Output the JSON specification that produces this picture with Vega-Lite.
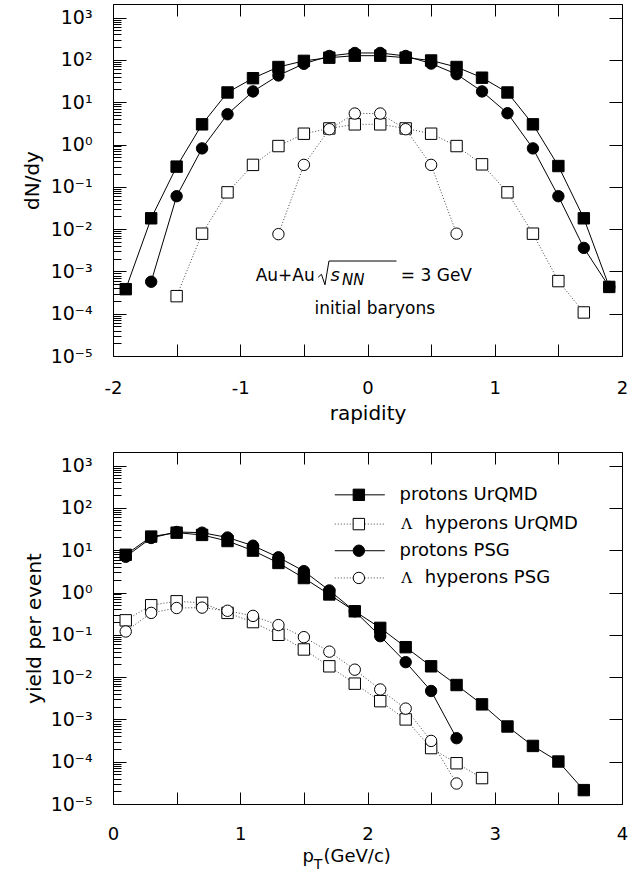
{
  "$schema": "https://vega.github.io/schema/vega-lite/v6.json",
  "padding": {"left": 21, "top": 3, "right": 5, "bottom": 3},
  "background": "white",
  "spacing": 96,
  "bounds": "flush",
  "config": {
    "view": {"stroke": "black", "strokeWidth": 1},
    "font": "DejaVu Sans",
    "text": {"font": "DejaVu Sans", "color": "black"},
    "axis": {
      "domain": false, "grid": false, "labelFont": "DejaVu Sans", "labelFontSize": 18, "labelColor": "black",
      "tickColor": "black", "tickWidth": 1, "titleFont": "DejaVu Sans", "titleFontSize": 20, "titleFontWeight": "normal",
      "titleColor": "black", "labelOverlap": false, "labelBound": false, "labelFlush": false
    }
  },
  "datasets": {
    "top": [
      {"s": "Λ hyperons UrQMD", "x": -1.5, "y": 0.00026},
      {"s": "Λ hyperons UrQMD", "x": -1.3, "y": 0.0078},
      {"s": "Λ hyperons UrQMD", "x": -1.1, "y": 0.074},
      {"s": "Λ hyperons UrQMD", "x": -0.9, "y": 0.33},
      {"s": "Λ hyperons UrQMD", "x": -0.7, "y": 0.92},
      {"s": "Λ hyperons UrQMD", "x": -0.5, "y": 1.8},
      {"s": "Λ hyperons UrQMD", "x": -0.3, "y": 2.4},
      {"s": "Λ hyperons UrQMD", "x": -0.1, "y": 3.0},
      {"s": "Λ hyperons UrQMD", "x": 0.1, "y": 3.0},
      {"s": "Λ hyperons UrQMD", "x": 0.3, "y": 2.4},
      {"s": "Λ hyperons UrQMD", "x": 0.5, "y": 1.8},
      {"s": "Λ hyperons UrQMD", "x": 0.7, "y": 0.92},
      {"s": "Λ hyperons UrQMD", "x": 0.9, "y": 0.34},
      {"s": "Λ hyperons UrQMD", "x": 1.1, "y": 0.074},
      {"s": "Λ hyperons UrQMD", "x": 1.3, "y": 0.0078},
      {"s": "Λ hyperons UrQMD", "x": 1.5, "y": 0.00059},
      {"s": "Λ hyperons UrQMD", "x": 1.7, "y": 0.000107},
      {"s": "Λ hyperons PSG", "x": -0.7, "y": 0.0076},
      {"s": "Λ hyperons PSG", "x": -0.5, "y": 0.33},
      {"s": "Λ hyperons PSG", "x": -0.3, "y": 2.3},
      {"s": "Λ hyperons PSG", "x": -0.1, "y": 5.4},
      {"s": "Λ hyperons PSG", "x": 0.1, "y": 5.4},
      {"s": "Λ hyperons PSG", "x": 0.3, "y": 2.3},
      {"s": "Λ hyperons PSG", "x": 0.5, "y": 0.33},
      {"s": "Λ hyperons PSG", "x": 0.7, "y": 0.0078},
      {"s": "protons UrQMD", "x": -1.9, "y": 0.00038},
      {"s": "protons UrQMD", "x": -1.7, "y": 0.018},
      {"s": "protons UrQMD", "x": -1.5, "y": 0.30},
      {"s": "protons UrQMD", "x": -1.3, "y": 3.0},
      {"s": "protons UrQMD", "x": -1.1, "y": 17},
      {"s": "protons UrQMD", "x": -0.9, "y": 37},
      {"s": "protons UrQMD", "x": -0.7, "y": 68},
      {"s": "protons UrQMD", "x": -0.5, "y": 95},
      {"s": "protons UrQMD", "x": -0.3, "y": 113},
      {"s": "protons UrQMD", "x": -0.1, "y": 126},
      {"s": "protons UrQMD", "x": 0.1, "y": 126},
      {"s": "protons UrQMD", "x": 0.3, "y": 113},
      {"s": "protons UrQMD", "x": 0.5, "y": 97},
      {"s": "protons UrQMD", "x": 0.7, "y": 68},
      {"s": "protons UrQMD", "x": 0.9, "y": 38},
      {"s": "protons UrQMD", "x": 1.1, "y": 17},
      {"s": "protons UrQMD", "x": 1.3, "y": 3.0},
      {"s": "protons UrQMD", "x": 1.5, "y": 0.31},
      {"s": "protons UrQMD", "x": 1.7, "y": 0.018},
      {"s": "protons UrQMD", "x": 1.9, "y": 0.00043},
      {"s": "protons PSG", "x": -1.7, "y": 0.00057},
      {"s": "protons PSG", "x": -1.5, "y": 0.06},
      {"s": "protons PSG", "x": -1.3, "y": 0.81},
      {"s": "protons PSG", "x": -1.1, "y": 5.2},
      {"s": "protons PSG", "x": -0.9, "y": 18},
      {"s": "protons PSG", "x": -0.7, "y": 43},
      {"s": "protons PSG", "x": -0.5, "y": 81},
      {"s": "protons PSG", "x": -0.3, "y": 124},
      {"s": "protons PSG", "x": -0.1, "y": 146},
      {"s": "protons PSG", "x": 0.1, "y": 146},
      {"s": "protons PSG", "x": 0.3, "y": 124},
      {"s": "protons PSG", "x": 0.5, "y": 82},
      {"s": "protons PSG", "x": 0.7, "y": 46},
      {"s": "protons PSG", "x": 0.9, "y": 18},
      {"s": "protons PSG", "x": 1.1, "y": 5.5},
      {"s": "protons PSG", "x": 1.3, "y": 0.81},
      {"s": "protons PSG", "x": 1.5, "y": 0.06},
      {"s": "protons PSG", "x": 1.7, "y": 0.0036},
      {"s": "protons PSG", "x": 1.9, "y": 0.00043}
    ],
    "bot": [
      {"s": "Λ hyperons UrQMD", "x": 0.1, "y": 0.22},
      {"s": "Λ hyperons UrQMD", "x": 0.3, "y": 0.50},
      {"s": "Λ hyperons UrQMD", "x": 0.5, "y": 0.62},
      {"s": "Λ hyperons UrQMD", "x": 0.7, "y": 0.57},
      {"s": "Λ hyperons UrQMD", "x": 0.9, "y": 0.33},
      {"s": "Λ hyperons UrQMD", "x": 1.1, "y": 0.20},
      {"s": "Λ hyperons UrQMD", "x": 1.3, "y": 0.10},
      {"s": "Λ hyperons UrQMD", "x": 1.5, "y": 0.045},
      {"s": "Λ hyperons UrQMD", "x": 1.7, "y": 0.018},
      {"s": "Λ hyperons UrQMD", "x": 1.9, "y": 0.007},
      {"s": "Λ hyperons UrQMD", "x": 2.1, "y": 0.0027},
      {"s": "Λ hyperons UrQMD", "x": 2.3, "y": 0.001},
      {"s": "Λ hyperons UrQMD", "x": 2.5, "y": 0.00021},
      {"s": "Λ hyperons UrQMD", "x": 2.7, "y": 0.000092},
      {"s": "Λ hyperons UrQMD", "x": 2.9, "y": 0.000041},
      {"s": "Λ hyperons PSG", "x": 0.1, "y": 0.12},
      {"s": "Λ hyperons PSG", "x": 0.3, "y": 0.33},
      {"s": "Λ hyperons PSG", "x": 0.5, "y": 0.43},
      {"s": "Λ hyperons PSG", "x": 0.7, "y": 0.44},
      {"s": "Λ hyperons PSG", "x": 0.9, "y": 0.37},
      {"s": "Λ hyperons PSG", "x": 1.1, "y": 0.28},
      {"s": "Λ hyperons PSG", "x": 1.3, "y": 0.17},
      {"s": "Λ hyperons PSG", "x": 1.5, "y": 0.088},
      {"s": "Λ hyperons PSG", "x": 1.7, "y": 0.04},
      {"s": "Λ hyperons PSG", "x": 1.9, "y": 0.015},
      {"s": "Λ hyperons PSG", "x": 2.1, "y": 0.0051},
      {"s": "Λ hyperons PSG", "x": 2.3, "y": 0.0018},
      {"s": "Λ hyperons PSG", "x": 2.5, "y": 0.00031},
      {"s": "Λ hyperons PSG", "x": 2.7, "y": 0.0000305},
      {"s": "protons UrQMD", "x": 0.1, "y": 7.8},
      {"s": "protons UrQMD", "x": 0.3, "y": 21},
      {"s": "protons UrQMD", "x": 0.5, "y": 26},
      {"s": "protons UrQMD", "x": 0.7, "y": 23},
      {"s": "protons UrQMD", "x": 0.9, "y": 16.5},
      {"s": "protons UrQMD", "x": 1.1, "y": 9.8},
      {"s": "protons UrQMD", "x": 1.3, "y": 5.0},
      {"s": "protons UrQMD", "x": 1.5, "y": 2.2},
      {"s": "protons UrQMD", "x": 1.7, "y": 0.9},
      {"s": "protons UrQMD", "x": 1.9, "y": 0.36},
      {"s": "protons UrQMD", "x": 2.1, "y": 0.146},
      {"s": "protons UrQMD", "x": 2.3, "y": 0.051},
      {"s": "protons UrQMD", "x": 2.5, "y": 0.018},
      {"s": "protons UrQMD", "x": 2.7, "y": 0.0065},
      {"s": "protons UrQMD", "x": 2.9, "y": 0.00227},
      {"s": "protons UrQMD", "x": 3.1, "y": 0.00068},
      {"s": "protons UrQMD", "x": 3.3, "y": 0.000236},
      {"s": "protons UrQMD", "x": 3.5, "y": 0.000101},
      {"s": "protons UrQMD", "x": 3.7, "y": 0.0000213},
      {"s": "protons PSG", "x": 0.1, "y": 7.0},
      {"s": "protons PSG", "x": 0.3, "y": 19.5},
      {"s": "protons PSG", "x": 0.5, "y": 27},
      {"s": "protons PSG", "x": 0.7, "y": 26},
      {"s": "protons PSG", "x": 0.9, "y": 20},
      {"s": "protons PSG", "x": 1.1, "y": 12.8},
      {"s": "protons PSG", "x": 1.3, "y": 6.8},
      {"s": "protons PSG", "x": 1.5, "y": 3.2},
      {"s": "protons PSG", "x": 1.7, "y": 1.12},
      {"s": "protons PSG", "x": 1.9, "y": 0.36},
      {"s": "protons PSG", "x": 2.1, "y": 0.093},
      {"s": "protons PSG", "x": 2.3, "y": 0.0226},
      {"s": "protons PSG", "x": 2.5, "y": 0.0047},
      {"s": "protons PSG", "x": 2.7, "y": 0.00036}
    ]
  },
  "vconcat": [
    {
      "width": 509,
      "height": 352,
      "data": {"name": "top"},
      "layer": [
        {
          "transform": [{"filter": "indexof(datum.s, 'protons') === 0"}],
          "mark": {"type": "line", "color": "black", "strokeWidth": 1},
          "encoding": {
            "x": {"field": "x", "type": "quantitative", "scale": {"domain": [-2, 2], "nice": false, "zero": false},
              "axis": {"orient": "bottom", "values": [-2, -1.5, -1, -0.5, 0, 0.5, 1, 1.5, 2], "tickSize": -12, "labelPadding": 35,
                "labelExpr": "datum.value == round(datum.value) ? (datum.value < 0 ? '-' + abs(datum.value) : '' + datum.value) : ''",
                "title": "rapidity", "titleX": 254.5, "titleY": 63, "titleBaseline": "alphabetic", "titleAlign": "center"}},
            "y": {"field": "y", "type": "quantitative", "scale": {"type": "log", "domain": [0.00001, 2100], "nice": false},
              "axis": {"orient": "left", "labelFontSize": 19,
                "values": [0.00001,0.00002,0.00003,0.00004,0.00005,0.00006,0.00007,0.00008,0.00009,0.0001,0.0002,0.0003,0.0004,0.0005,0.0006,0.0007,0.0008,0.0009,0.001,0.002,0.003,0.004,0.005,0.006,0.007,0.008,0.009,0.01,0.02,0.03,0.04,0.05,0.06,0.07,0.08,0.09,0.1,0.2,0.3,0.4,0.5,0.6,0.7,0.8,0.9,1,2,3,4,5,6,7,8,9,10,20,30,40,50,60,70,80,90,100,200,300,400,500,600,700,800,900,1000],
                "tickSize": {"condition": {"test": "abs(log(datum.value)/LN10 - round(log(datum.value)/LN10)) < 0.01", "value": -13}, "value": -8},
                "labelPadding": 34,
                "labelExpr": "abs(log(datum.value)/LN10 - round(log(datum.value)/LN10)) < 0.01 ? '10' + (datum.value < 0.5 ? '\u207b' : '') + ['\u2070','\u00b9','\u00b2','\u00b3','\u2074','\u2075'][abs(round(log(datum.value)/LN10))] : ''",
                "title": "dN/dy", "titleX": -75, "titleY": 176, "titleAngle": -90, "titleBaseline": "alphabetic", "titleAlign": "center"}},
            "detail": {"field": "s"}
          }
        },
        {
          "transform": [{"filter": "indexof(datum.s, 'protons') !== 0"}],
          "mark": {"type": "line", "color": "#444444", "strokeWidth": 1, "strokeDash": [1, 2]},
          "encoding": {
            "x": {"field": "x", "type": "quantitative", "axis": {"orient": "top", "values": [-2, -1.5, -1, -0.5, 0, 0.5, 1, 1.5, 2], "tickSize": -12, "labels": false, "title": null}},
            "y": {"field": "y", "type": "quantitative", "axis": {"orient": "right", "values": [0.00001,0.0001,0.001,0.01,0.1,1,10,100,1000], "tickSize": -13, "labels": false, "title": null}},
            "detail": {"field": "s"}
          }
        },
        {
          "mark": {"type": "point", "opacity": 1, "stroke": "black", "strokeWidth": 1, "size": 130},
          "encoding": {
            "x": {"field": "x", "type": "quantitative", "axis": null},
            "y": {"field": "y", "type": "quantitative", "axis": null},
            "shape": {"field": "s", "type": "nominal", "legend": null, "scale": {"domain": ["protons UrQMD", "Λ hyperons UrQMD", "protons PSG", "Λ hyperons PSG"], "range": ["square", "square", "circle", "circle"]}},
            "fill": {"field": "s", "type": "nominal", "legend": null, "scale": {"domain": ["protons UrQMD", "Λ hyperons UrQMD", "protons PSG", "Λ hyperons PSG"], "range": ["black", "white", "black", "white"]}}
          }
        },
        {
          "data": {"values": [{"t": "Au+Au"}]},
          "mark": {"type": "text", "align": "right", "baseline": "alphabetic", "fontSize": 17},
          "encoding": {"x": {"datum": -0.4145, "type": "quantitative", "axis": null}, "y": {"datum": 0.000583, "type": "quantitative", "axis": null}, "text": {"field": "t"}}
        },
        {
          "data": {"values": [{"t": "s"}]},
          "mark": {"type": "text", "align": "left", "baseline": "alphabetic", "fontSize": 18, "fontStyle": "italic"},
          "encoding": {"x": {"datum": -0.291, "type": "quantitative", "axis": null}, "y": {"datum": 0.000583, "type": "quantitative", "axis": null}, "text": {"field": "t"}}
        },
        {
          "data": {"values": [{"t": "NN"}]},
          "mark": {"type": "text", "align": "left", "baseline": "alphabetic", "fontSize": 15, "fontStyle": "italic"},
          "encoding": {"x": {"datum": -0.2, "type": "quantitative", "axis": null}, "y": {"datum": 0.000469, "type": "quantitative", "axis": null}, "text": {"field": "t"}}
        },
        {
          "data": {"values": [{"t": "= 3 GeV"}]},
          "mark": {"type": "text", "align": "left", "baseline": "alphabetic", "fontSize": 17},
          "encoding": {"x": {"datum": 0.262, "type": "quantitative", "axis": null}, "y": {"datum": 0.000583, "type": "quantitative", "axis": null}, "text": {"field": "t"}}
        },
        {
          "data": {"values": [{"t": "initial baryons"}]},
          "mark": {"type": "text", "align": "left", "baseline": "alphabetic", "fontSize": 17},
          "encoding": {"x": {"datum": -0.416, "type": "quantitative", "axis": null}, "y": {"datum": 0.0001, "type": "quantitative", "axis": null}, "text": {"field": "t"}}
        },
        {
          "data": {"values": [{}]},
          "mark": {"type": "rule", "color": "black", "strokeWidth": 1},
          "encoding": {"x": {"datum": -0.388, "type": "quantitative", "axis": null}, "y": {"datum": 0.000726, "type": "quantitative", "axis": null},
            "x2": {"datum": -0.362}, "y2": {"datum": 0.000854}}
        },
        {
          "data": {"values": [{}]},
          "mark": {"type": "rule", "color": "black", "strokeWidth": 1},
          "encoding": {"x": {"datum": -0.362, "type": "quantitative", "axis": null}, "y": {"datum": 0.000854, "type": "quantitative", "axis": null},
            "x2": {"datum": -0.334}, "y2": {"datum": 0.000482}}
        },
        {
          "data": {"values": [{}]},
          "mark": {"type": "rule", "color": "black", "strokeWidth": 1},
          "encoding": {"x": {"datum": -0.334, "type": "quantitative", "axis": null}, "y": {"datum": 0.000482, "type": "quantitative", "axis": null},
            "x2": {"datum": -0.303}, "y2": {"datum": 0.00176}}
        },
        {
          "data": {"values": [{}]},
          "mark": {"type": "rule", "color": "black", "strokeWidth": 1},
          "encoding": {"x": {"datum": -0.303, "type": "quantitative", "axis": null}, "y": {"datum": 0.00176, "type": "quantitative", "axis": null},
            "x2": {"datum": 0.228}, "y2": {"datum": 0.00176}}
        }
      ],
      "resolve": {"axis": {"x": "independent", "y": "independent"}}
    },
    {
      "width": 509,
      "height": 352,
      "data": {"name": "bot"},
      "layer": [
        {
          "transform": [{"filter": "indexof(datum.s, 'protons') === 0"}],
          "mark": {"type": "line", "color": "black", "strokeWidth": 1},
          "encoding": {
            "x": {"field": "x", "type": "quantitative", "scale": {"domain": [0, 4], "nice": false, "zero": false},
              "axis": {"orient": "bottom", "values": [0, 0.5, 1, 1.5, 2, 2.5, 3, 3.5, 4], "tickSize": -12, "labelPadding": 33,
                "labelExpr": "datum.value == round(datum.value) ? '' + datum.value : ''", "title": null}},
            "y": {"field": "y", "type": "quantitative", "scale": {"type": "log", "domain": [0.00001, 2100], "nice": false},
              "axis": {"orient": "left", "labelFontSize": 19,
                "values": [0.00001,0.00002,0.00003,0.00004,0.00005,0.00006,0.00007,0.00008,0.00009,0.0001,0.0002,0.0003,0.0004,0.0005,0.0006,0.0007,0.0008,0.0009,0.001,0.002,0.003,0.004,0.005,0.006,0.007,0.008,0.009,0.01,0.02,0.03,0.04,0.05,0.06,0.07,0.08,0.09,0.1,0.2,0.3,0.4,0.5,0.6,0.7,0.8,0.9,1,2,3,4,5,6,7,8,9,10,20,30,40,50,60,70,80,90,100,200,300,400,500,600,700,800,900,1000],
                "tickSize": {"condition": {"test": "abs(log(datum.value)/LN10 - round(log(datum.value)/LN10)) < 0.01", "value": -13}, "value": -8},
                "labelPadding": 34,
                "labelExpr": "abs(log(datum.value)/LN10 - round(log(datum.value)/LN10)) < 0.01 ? '10' + (datum.value < 0.5 ? '\u207b' : '') + ['\u2070','\u00b9','\u00b2','\u00b3','\u2074','\u2075'][abs(round(log(datum.value)/LN10))] : ''",
                "title": "yield per event", "titleX": -73, "titleY": 176, "titleAngle": -90, "titleBaseline": "alphabetic", "titleAlign": "center"}},
            "detail": {"field": "s"}
          }
        },
        {
          "transform": [{"filter": "indexof(datum.s, 'protons') !== 0"}],
          "mark": {"type": "line", "color": "#444444", "strokeWidth": 1, "strokeDash": [1, 2]},
          "encoding": {
            "x": {"field": "x", "type": "quantitative", "axis": {"orient": "top", "values": [0, 0.5, 1, 1.5, 2, 2.5, 3, 3.5, 4], "tickSize": -12, "labels": false, "title": null}},
            "y": {"field": "y", "type": "quantitative", "axis": {"orient": "right", "values": [0.00001,0.0001,0.001,0.01,0.1,1,10,100,1000], "tickSize": -13, "labels": false, "title": null}},
            "detail": {"field": "s"}
          }
        },
        {
          "mark": {"type": "point", "opacity": 1, "stroke": "black", "strokeWidth": 1, "size": 130},
          "encoding": {
            "x": {"field": "x", "type": "quantitative", "axis": null},
            "y": {"field": "y", "type": "quantitative", "axis": null},
            "shape": {"field": "s", "type": "nominal", "legend": null, "scale": {"domain": ["protons UrQMD", "Λ hyperons UrQMD", "protons PSG", "Λ hyperons PSG"], "range": ["square", "square", "circle", "circle"]}},
            "fill": {"field": "s", "type": "nominal", "legend": null, "scale": {"domain": ["protons UrQMD", "Λ hyperons UrQMD", "protons PSG", "Λ hyperons PSG"], "range": ["black", "white", "black", "white"]}}
          }
        },
        {
          "data": {"values": [{"s": "protons UrQMD", "label": "protons UrQMD"}]},
          "encoding": {"y": {"datum": 204, "type": "quantitative", "axis": null}},
          "layer": [
            {"mark": {"type": "rule", "color": "black", "strokeWidth": 1}, "encoding": {"x": {"datum": 1.743, "type": "quantitative", "axis": null}, "x2": {"datum": 2.136}}},
            {"mark": {"type": "point", "opacity": 1, "stroke": "black", "strokeWidth": 1, "size": 130}, "encoding": {"x": {"datum": 1.932, "type": "quantitative", "axis": null}, "shape": {"field": "s", "type": "nominal", "legend": null}, "fill": {"field": "s", "type": "nominal", "legend": null}}},
            {"mark": {"type": "text", "align": "left", "baseline": "middle", "fontSize": 18}, "encoding": {"x": {"datum": 2.252, "type": "quantitative", "axis": null}, "text": {"field": "label"}}}
          ]
        },
        {
          "data": {"values": [{"s": "Λ hyperons UrQMD", "lam": "Λ", "label": "hyperons UrQMD"}]},
          "encoding": {"y": {"datum": 41.5, "type": "quantitative", "axis": null}},
          "layer": [
            {"mark": {"type": "rule", "color": "#444444", "strokeWidth": 1, "strokeDash": [1, 2]}, "encoding": {"x": {"datum": 1.743, "type": "quantitative", "axis": null}, "x2": {"datum": 2.136}}},
            {"mark": {"type": "point", "opacity": 1, "stroke": "black", "strokeWidth": 1, "size": 130}, "encoding": {"x": {"datum": 1.932, "type": "quantitative", "axis": null}, "shape": {"field": "s", "type": "nominal", "legend": null}, "fill": {"field": "s", "type": "nominal", "legend": null}}},
            {"mark": {"type": "text", "align": "left", "baseline": "middle", "fontSize": 15, "font": "DejaVu Serif"}, "encoding": {"x": {"datum": 2.265, "type": "quantitative", "axis": null}, "text": {"field": "lam"}}},
            {"mark": {"type": "text", "align": "left", "baseline": "middle", "fontSize": 18}, "encoding": {"x": {"datum": 2.45, "type": "quantitative", "axis": null}, "text": {"field": "label"}}}
          ]
        },
        {
          "data": {"values": [{"s": "protons PSG", "label": "protons PSG"}]},
          "encoding": {"y": {"datum": 9.73, "type": "quantitative", "axis": null}},
          "layer": [
            {"mark": {"type": "rule", "color": "black", "strokeWidth": 1}, "encoding": {"x": {"datum": 1.743, "type": "quantitative", "axis": null}, "x2": {"datum": 2.136}}},
            {"mark": {"type": "point", "opacity": 1, "stroke": "black", "strokeWidth": 1, "size": 130}, "encoding": {"x": {"datum": 1.932, "type": "quantitative", "axis": null}, "shape": {"field": "s", "type": "nominal", "legend": null}, "fill": {"field": "s", "type": "nominal", "legend": null}}},
            {"mark": {"type": "text", "align": "left", "baseline": "middle", "fontSize": 18}, "encoding": {"x": {"datum": 2.252, "type": "quantitative", "axis": null}, "text": {"field": "label"}}}
          ]
        },
        {
          "data": {"values": [{"s": "Λ hyperons PSG", "lam": "Λ", "label": "hyperons PSG"}]},
          "encoding": {"y": {"datum": 2.21, "type": "quantitative", "axis": null}},
          "layer": [
            {"mark": {"type": "rule", "color": "#444444", "strokeWidth": 1, "strokeDash": [1, 2]}, "encoding": {"x": {"datum": 1.743, "type": "quantitative", "axis": null}, "x2": {"datum": 2.136}}},
            {"mark": {"type": "point", "opacity": 1, "stroke": "black", "strokeWidth": 1, "size": 130}, "encoding": {"x": {"datum": 1.932, "type": "quantitative", "axis": null}, "shape": {"field": "s", "type": "nominal", "legend": null}, "fill": {"field": "s", "type": "nominal", "legend": null}}},
            {"mark": {"type": "text", "align": "left", "baseline": "middle", "fontSize": 15, "font": "DejaVu Serif"}, "encoding": {"x": {"datum": 2.265, "type": "quantitative", "axis": null}, "text": {"field": "lam"}}},
            {"mark": {"type": "text", "align": "left", "baseline": "middle", "fontSize": 18}, "encoding": {"x": {"datum": 2.45, "type": "quantitative", "axis": null}, "text": {"field": "label"}}}
          ]
        },
        {
          "data": {"values": [{"t": "p"}]},
          "mark": {"type": "text", "align": "left", "baseline": "alphabetic", "fontSize": 18},
          "encoding": {"x": {"datum": 1.489, "type": "quantitative", "axis": null}, "y": {"datum": 0.000000426, "type": "quantitative", "axis": null}, "text": {"field": "t"}}
        },
        {
          "data": {"values": [{"t": "T"}]},
          "mark": {"type": "text", "align": "left", "baseline": "alphabetic", "fontSize": 14},
          "encoding": {"x": {"datum": 1.578, "type": "quantitative", "axis": null}, "y": {"datum": 0.00000029, "type": "quantitative", "axis": null}, "text": {"field": "t"}}
        },
        {
          "data": {"values": [{"t": "(GeV/c)"}]},
          "mark": {"type": "text", "align": "left", "baseline": "alphabetic", "fontSize": 18},
          "encoding": {"x": {"datum": 1.654, "type": "quantitative", "axis": null}, "y": {"datum": 0.000000426, "type": "quantitative", "axis": null}, "text": {"field": "t"}}
        }
      ],
      "resolve": {"axis": {"x": "independent", "y": "independent"}}
    }
  ]
}
